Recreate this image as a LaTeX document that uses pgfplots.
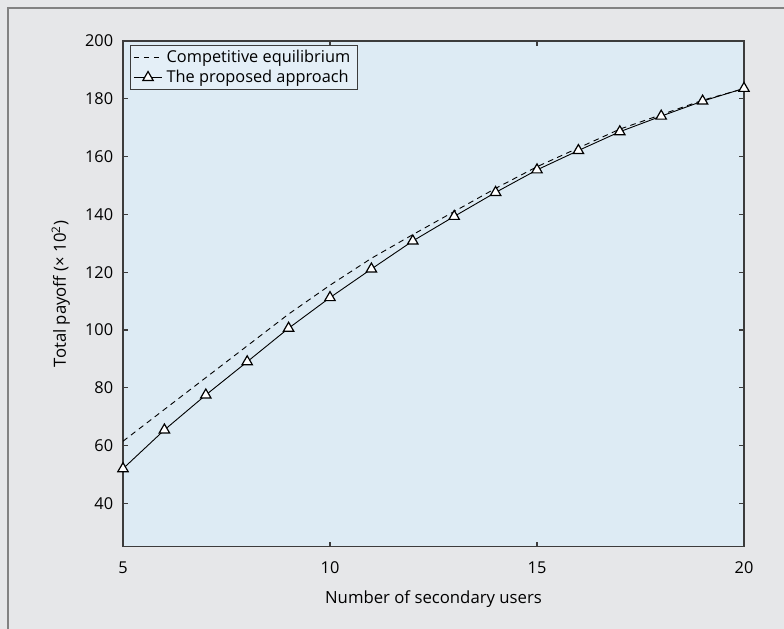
\documentclass[border=0pt]{standalone}
\usepackage{pgfplots}
\pgfplotsset{compat=1.18}
\usepackage{fontspec}
\setmainfont{Open Sans}
\definecolor{outerbg}{RGB}{230,231,233}
\definecolor{plotbg}{RGB}{221,235,244}
\definecolor{legbg}{RGB}{228,239,247}
\definecolor{framegray}{RGB}{130,130,130}
\definecolor{axisgray}{RGB}{60,60,60}
\begin{document}
\fontsize{8.2}{9.5}\selectfont
\begin{tikzpicture}
\useasboundingbox (0,0) rectangle (392bp,-314.5bp);
\fill[outerbg] (0,0) rectangle (392bp,-314.5bp);
\draw[framegray, line width=0.8bp] (4bp,-320bp) -- (4bp,-4bp) -- (400bp,-4bp);
\begin{axis}[
  at={(61.5bp,-273.35bp)}, anchor=south west,
  scale only axis, width=310.5bp, height=252.85bp,
  xmin=5, xmax=20, ymin=25, ymax=200,
  xtick={5,10,15,20}, ytick={40,60,...,200},
  tick align=inside, major tick length=2.5bp,
  tick style={axisgray, line width=0.6bp},
  axis line style={axisgray, line width=0.75bp},
  axis background/.style={fill=plotbg},
  /pgf/number format/assume math mode=true,
  ticklabel style={font=\fontsize{8.2}{9.5}\selectfont, black},
  yticklabel style={xshift=-2bp},
  xticklabel style={yshift=-4.5bp},
  xlabel={Number of secondary users},
  ylabel={Total payoff (× 10\textsuperscript{2})},
  label style={font=\fontsize{8.4}{9.5}\selectfont},
  xlabel style={yshift=-3bp},
  ylabel style={yshift=2bp},
  legend style={at={(0.011,0.992)}, anchor=north west, fill=legbg, draw=axisgray, line width=0.6bp,
    font=\fontsize{8.2}{8.8}\selectfont, inner xsep=1.5bp, inner ysep=0.3bp, row sep=-1.5bp},
  legend cell align=left,
  legend image code/.code={\draw[mark repeat=2,mark phase=2,#1] plot coordinates {(0cm,0cm) (0.25cm,0cm) (0.5cm,0cm)};},
]
\addplot[black, line width=0.45bp, dashed, dash pattern=on 2.8bp off 2.2bp] coordinates {
(5,61.5) (6,72.5) (7,83.5) (8,94.5) (9,105.5) (10,115.5) (11,124.8) (12,133)
(13,141) (14,149) (15,156.5) (16,163) (17,169.5) (18,174.5) (19,179.5) (20,183.5)};
\addlegendentry{Competitive equilibrium}
\addplot[black, line width=0.45bp, mark=triangle*, mark size=3pt,
  mark options={fill=white, draw=black, line width=0.6bp, solid}] coordinates {
(5,52) (6,65.4) (7,77.5) (8,89) (9,100.6) (10,111.2) (11,121.1) (12,130.8)
(13,139.3) (14,147.6) (15,155.4) (16,162.1) (17,168.6) (18,174) (19,179.2) (20,183.6)};
\addlegendentry{The proposed approach}
\end{axis}
\end{tikzpicture}
\end{document}
